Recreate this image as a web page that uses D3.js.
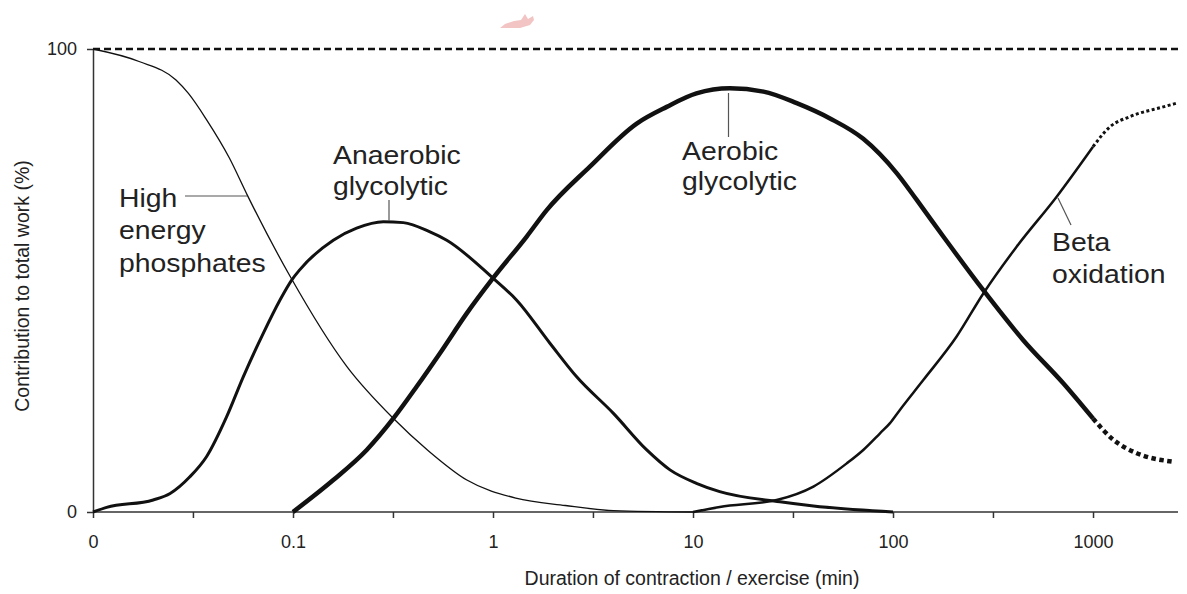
<!DOCTYPE html>
<html>
<head>
<meta charset="utf-8">
<script src="https://cdn.jsdelivr.net/npm/d3@7"></script>
<style>
  html, body { margin: 0; padding: 0; background: #fff; }
  svg { display: block; font-family: "Liberation Sans", Arial, sans-serif; }
</style>
</head>
<body>
<svg id="chart" width="1187" height="594"></svg>
<script>
// ---- Data (duration in minutes, contribution in %) ----
const xTickValues = [0.01, 0.0316, 0.1, 0.316, 1, 3.16, 10, 31.6, 100, 316, 1000];
const xTickLabels = ["0", "", "0.1", "", "1", "", "10", "", "100", "", "1000"];
const yTickValues = [0, 100];
const yTickLabels = ["0", "100"];

const phosphX = [0.01, 0.017, 0.026, 0.03, 0.037, 0.048, 0.059, 0.097, 0.186, 0.316, 0.47, 0.74, 1.3, 2.3, 4, 10];
const phosphY = [100, 97.3, 93.3, 90.4, 84.7, 76.5, 68.5, 50.8, 31.4, 20.3, 13.4, 6.9, 3.0, 1.4, 0.3, 0];

const anaerX = [0.01, 0.0117, 0.02, 0.0243, 0.0305, 0.037, 0.0466, 0.0564, 0.071, 0.0861, 0.0985, 0.108, 0.159, 0.208, 0.283, 0.356, 0.484, 0.587, 1.0, 1.31, 1.93, 2.62, 4.0, 5.87, 7.67, 10.4, 13.6, 27.2, 40, 100];
const anaerY = [0, 1.0, 2.6, 4.0, 7.6, 12.0, 20.6, 29.2, 38.6, 45.8, 50.1, 52.3, 58.7, 61.3, 62.7, 62.5, 60.5, 58.7, 50.5, 45.8, 36.4, 29.2, 21.3, 13.4, 9.1, 6.2, 4.4, 2.2, 1.3, 0];

const aerobX = [0.1, 0.159, 0.2336, 0.3175, 0.4155, 0.543, 0.739, 1.0, 1.474, 1.856, 3.05, 5.23, 7.39, 10.4, 15.3, 22.5, 33.0, 48.4, 71.0, 104.3, 131.4, 178.4, 282.8, 448, 710, 1000];
const aerobY = [0, 6.9, 13.4, 20.2, 27.1, 34.3, 42.9, 50.5, 59.5, 65.2, 74.6, 83.9, 87.5, 90.4, 91.5, 90.8, 88.3, 85.0, 80.6, 73.2, 67.4, 59.5, 47.9, 37.1, 27.8, 20.2];
const aerobTailX = [1000, 1264, 1654, 2475];
const aerobTailY = [20.2, 15.6, 12.7, 10.9];

const betaX = [10, 13.6, 26.2, 40, 58.7, 71.0, 86.1, 96.6, 108, 141.7, 208, 282.8, 415, 658, 1000];
const betaY = [0, 1.1, 2.6, 5.5, 10.5, 13.4, 17.0, 19.2, 22.0, 28.5, 37.9, 47.2, 57.3, 68.1, 78.9];
const betaTailX = [1000, 1216, 1531, 2246, 2621];
const betaTailY = [78.9, 83.2, 85.4, 87.5, 88.3];

// ---- Scales ----
const svg = d3.select("#chart");
const x = d3.scaleLog().domain([0.01, 2660]).range([93, 1178]);
const y = d3.scaleLinear().domain([0, 100]).range([512, 49]);
const ink = "#111";

const zip = (xs, ys) => xs.map((v, i) => [v, ys[i]]);
const line = d3.line().x(d => x(d[0])).y(d => y(d[1])).curve(d3.curveMonotoneX);

// watermark-like pink mark at top
svg.append("path")
  .attr("d", "M500,28 L505,24 L514,21 L521,20 L525,14 L528,19 L533,16 L534,20 L530,25 L520,28 Z")
  .attr("fill", "#f2c4c4");

// 100% dashed reference line
svg.append("line")
  .attr("x1", x(0.01)).attr("x2", 1178)
  .attr("y1", y(100)).attr("y2", y(100))
  .attr("stroke", ink).attr("stroke-width", 2.3)
  .attr("stroke-dasharray", "7,4");

// Axes
const xAxis = d3.axisBottom(x).tickValues(xTickValues)
  .tickFormat((d, i) => xTickLabels[i]).tickSize(6).tickPadding(17).tickSizeOuter(0);
const gx = svg.append("g").attr("transform", `translate(0,${y(0)})`).call(xAxis);
gx.select(".domain").attr("d", `M${x(0.01)},0H1178`).attr("stroke", "#333").attr("stroke-width", 1.5);
gx.selectAll(".tick line").attr("stroke", "#333").attr("stroke-width", 1.5);
gx.selectAll(".tick text").attr("font-size", 18).attr("fill", "#222")
  .attr("font-family", "'Liberation Sans', Arial, sans-serif");

const yAxis = d3.axisLeft(y).tickValues(yTickValues)
  .tickFormat((d, i) => yTickLabels[i]).tickSize(6).tickPadding(10).tickSizeOuter(0);
const gy = svg.append("g").attr("transform", `translate(${x(0.01)},0)`).call(yAxis);
gy.select(".domain").attr("stroke", "#333").attr("stroke-width", 1.5);
gy.selectAll(".tick line").attr("stroke", "#333").attr("stroke-width", 1.5);
gy.selectAll(".tick text").attr("font-size", 18).attr("fill", "#222")
  .attr("font-family", "'Liberation Sans', Arial, sans-serif");

// Axis titles
svg.append("text")
  .attr("x", 692).attr("y", 585).attr("text-anchor", "middle")
  .attr("font-size", 19.5).attr("fill", "#222")
  .text("Duration of contraction / exercise (min)");
svg.append("text")
  .attr("transform", "translate(29,286) rotate(-90)")
  .attr("text-anchor", "middle")
  .attr("font-size", 19.5).attr("fill", "#222")
  .text("Contribution to total work (%)");

// Curves
svg.append("path").datum(zip(phosphX, phosphY)).attr("d", line)
  .attr("fill", "none").attr("stroke", ink).attr("stroke-width", 1.3);
svg.append("path").datum(zip(anaerX, anaerY)).attr("d", line)
  .attr("fill", "none").attr("stroke", ink).attr("stroke-width", 3);
svg.append("path").datum(zip(betaX, betaY)).attr("d", line)
  .attr("fill", "none").attr("stroke", ink).attr("stroke-width", 2.5);
svg.append("path").datum(zip(betaTailX, betaTailY)).attr("d", line)
  .attr("fill", "none").attr("stroke", ink).attr("stroke-width", 3)
  .attr("stroke-dasharray", "3,2.5");
svg.append("path").datum(zip(aerobX, aerobY)).attr("d", line)
  .attr("fill", "none").attr("stroke", ink).attr("stroke-width", 4.5);
svg.append("path").datum(zip(aerobTailX, aerobTailY)).attr("d", line)
  .attr("fill", "none").attr("stroke", ink).attr("stroke-width", 4.5)
  .attr("stroke-dasharray", "4.5,3.5");

// Labels with leader lines
const labelFont = 26.5;
function label(lines, lx, ly, gap) {
  const t = svg.append("text").attr("font-size", labelFont).attr("fill", "#222")
    .attr("transform", `translate(${lx},${ly}) scale(1.07,1)`);
  lines.forEach((s, i) => t.append("tspan").attr("x", 0).attr("y", i * gap).text(s));
}
function leader(x1, y1, x2, y2) {
  svg.append("line").attr("x1", x1).attr("y1", y1).attr("x2", x2).attr("y2", y2)
    .attr("stroke", "#555").attr("stroke-width", 1.2);
}
label(["High", "energy", "phosphates"], 119, 207, 32.5);
leader(185, 196, 247, 196);
label(["Anaerobic", "glycolytic"], 333, 164, 31.5);
leader(389, 200, 389, 221);
label(["Aerobic", "glycolytic"], 682, 160, 30.5);
leader(728.5, 93, 728.5, 137);
label(["Beta", "oxidation"], 1052, 251, 32);
leader(1058, 198, 1071, 225);
</script>
</body>
</html>
